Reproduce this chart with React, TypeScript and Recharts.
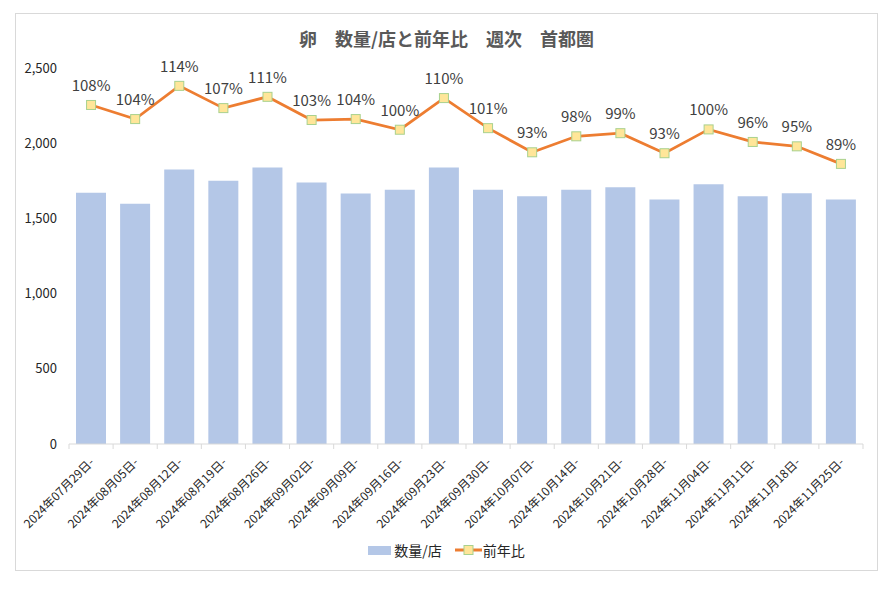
import React from "react";
import {
  ComposedChart,
  Bar,
  Line,
  XAxis,
  YAxis,
  Legend,
  LabelList,
} from "recharts";

const weeks = [
  "2024年07月29日-", "2024年08月05日-", "2024年08月12日-", "2024年08月19日-",
  "2024年08月26日-", "2024年09月02日-", "2024年09月09日-", "2024年09月16日-",
  "2024年09月23日-", "2024年09月30日-", "2024年10月07日-", "2024年10月14日-",
  "2024年10月21日-", "2024年10月28日-", "2024年11月04日-", "2024年11月11日-",
  "2024年11月18日-", "2024年11月25日-",
];
const qtyPerStore = [
  1671, 1598, 1825, 1751, 1838, 1738, 1665, 1691, 1838,
  1691, 1647, 1691, 1707, 1625, 1727, 1647, 1667, 1625,
];
const yoy = [
  1.082, 1.037, 1.143, 1.072, 1.108, 1.034, 1.037, 1.003, 1.104,
  1.008, 0.931, 0.982, 0.992, 0.928, 1.004, 0.964, 0.95, 0.894,
];
const yTicks = [0, 500, 1000, 1500, 2000, 2500];

const data = weeks.map((w, i) => ({ week: w, qty: qtyPerStore[i], yoy: yoy[i] }));

const FONT = '"Noto Sans CJK JP", "Noto Sans", sans-serif';
const W = 861;
const H = 556;
const MARGIN = { top: 54, right: 14, left: 0, bottom: 10 };
const Y_W = 53;
const PLOT_W = W - MARGIN.left - MARGIN.right - Y_W;
const BAND = PLOT_W / weeks.length;

const BAR_COLOR = "#b4c7e7";
const LINE_COLOR = "#ed7d31";

const SquareDot = (props: any) => {
  const { cx, cy, index } = props;
  if (cx == null || cy == null) return <g key={index} />;
  return (
    <rect key={index} x={cx - 4.5} y={cy - 4.5} width={9} height={9}
      fill="#ffe699" stroke="#a9d18e" strokeWidth={1} />
  );
};

const WeekTick = (props: any) => {
  const { x, y, payload, index } = props;
  const ax = x + 4;
  const ay = y + 19;
  return (
    <g>
      <line x1={x - BAND / 2} x2={x - BAND / 2} y1={y} y2={y + 5} stroke="#d9d9d9" />
      {index === weeks.length - 1 && (
        <line x1={x + BAND / 2} x2={x + BAND / 2} y1={y} y2={y + 5} stroke="#d9d9d9" />
      )}
      <text x={ax} y={ay} textAnchor="end" transform={`rotate(-45 ${ax} ${ay})`}
        fontSize={12} fill="#262626" fontFamily={FONT}>
        {payload.value}
      </text>
    </g>
  );
};

const LegendBox = () => (
  <div style={{ display: "flex", justifyContent: "center", alignItems: "center", height: 20,
    fontFamily: FONT, fontSize: 14, color: "#262626" }}>
    <span style={{ display: "inline-block", width: 23, height: 9, background: BAR_COLOR, marginRight: 3 }} />
    <span>数量/店</span>
    <svg width={27} height={12} style={{ marginLeft: 13, marginRight: 1 }}>
      <line x1={0} x2={27} y1={6} y2={6} stroke={LINE_COLOR} strokeWidth={3} />
      <rect x={9} y={1.5} width={9} height={9} fill="#ffe699" stroke="#a9d18e" />
    </svg>
    <span>前年比</span>
  </div>
);

const pct = (v: any) => `${Math.round(Number(v) * 100)}%`;
const thousands = (v: any) => Number(v).toLocaleString("en-US");

export default function App() {
  return (
    <div style={{ paddingLeft: 7, paddingTop: 5, paddingBottom: 10 }}>
      <div style={{ position: "relative", width: 863, height: 558,
        boxSizing: "border-box", border: "1px solid #d9d9d9", background: "#fff" }}>
        <div style={{ position: "absolute", left: 0, top: 15, width: W, textAlign: "center",
          fontFamily: FONT, fontSize: 18, lineHeight: "18px", fontWeight: "bold", color: "#595959",
          zIndex: 1 }}>
          卵　数量/店と前年比　週次　首都圏
        </div>
        <ComposedChart width={W} height={H} data={data} margin={MARGIN}>
          <XAxis dataKey="week" interval={0} tickSize={0} tickMargin={0} tickLine={false}
            axisLine={{ stroke: "#d9d9d9" }} height={96} tick={WeekTick} />
          <YAxis yAxisId="qty" width={Y_W} domain={[0, 2500]} ticks={yTicks}
            axisLine={false} tickLine={false} tickMargin={6}
            tickFormatter={thousands}
            tick={{ fontSize: 13, fill: "#262626", fontFamily: FONT }} />
          <YAxis yAxisId="pct" orientation="right" hide domain={[0, 1.2]} />
          <Legend verticalAlign="bottom" content={LegendBox}
            wrapperStyle={{ left: 0, width: W, bottom: 10 }} />
          <Bar yAxisId="qty" dataKey="qty" name="数量/店" fill={BAR_COLOR} barSize={30}
            isAnimationActive={false} />
          <Line yAxisId="pct" dataKey="yoy" name="前年比" stroke={LINE_COLOR} strokeWidth={2.75}
            dot={SquareDot} activeDot={false} isAnimationActive={false}>
            <LabelList dataKey="yoy" position="top" offset={14}
              formatter={pct}
              style={{ fontSize: 15, fill: "#404040", fontFamily: FONT }} />
          </Line>
        </ComposedChart>
      </div>
    </div>
  );
}
